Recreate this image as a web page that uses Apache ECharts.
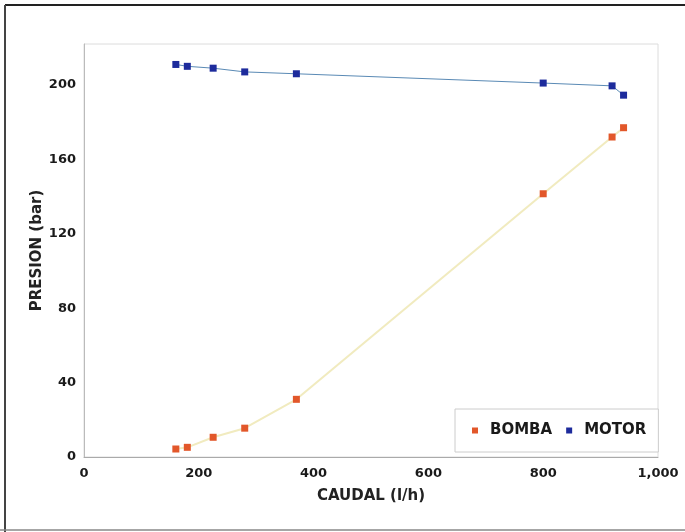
<!DOCTYPE html>
<html>
<head>
<meta charset="utf-8">
<script src="https://cdn.jsdelivr.net/npm/echarts@6/dist/echarts.min.js"></script>
<style>
html,body{margin:0;padding:0;background:#fff;}
#c{width:685px;height:532px;}
</style>
</head>
<body>
<div id="c"></div>
<script>
var caudal = [160, 180, 225, 280, 370, 800, 920, 940];
var bomba = [4.3, 5.2, 10.6, 15.5, 31, 141.5, 172, 177];
var motor = [211, 210, 209, 207, 206, 201, 199.5, 194.5];
var seriesNames = ['BOMBA', 'MOTOR'];
var xTitle = 'CAUDAL (l/h)';
var yTitle = 'PRESION (bar)';

function pairs(xs, ys){ return xs.map(function(x,i){ return [x, ys[i]]; }); }
function commas(v){ return String(v).replace(/\B(?=(\d{3})+(?!\d))/g, ','); }

var FONT = 'DejaVu Sans';
var chart = echarts.init(document.getElementById('c'));
chart.setOption({
  animation: false,
  backgroundColor: '#fff',
  grid: {left: 84, right: 27, top: 44, bottom: 75, show: true, borderColor: '#dcdcdc', borderWidth: 1, backgroundColor: '#fff'},
  xAxis: {
    type: 'value', min: 0, max: 1000, interval: 200,
    name: xTitle, nameLocation: 'middle', nameGap: 32, nameMoveOverlap: false,
    nameTextStyle: {fontFamily: FONT, fontWeight: 'bold', fontSize: 15, color: '#222'},
    axisLine: {show: true, lineStyle: {color: '#aaa', width: 1}},
    axisTick: {show: false},
    splitLine: {show: false},
    axisLabel: {margin: 10, fontFamily: FONT, fontWeight: 'bold', fontSize: 13, color: '#1a1a1a', formatter: commas}
  },
  yAxis: {
    type: 'value', min: 0, max: 222, interval: 40,
    name: yTitle, nameLocation: 'middle', nameGap: 39, nameRotate: 90, nameMoveOverlap: false,
    nameTextStyle: {fontFamily: FONT, fontWeight: 'bold', fontSize: 15, color: '#222'},
    axisLine: {show: true, lineStyle: {color: '#bbb', width: 1}},
    axisTick: {show: false},
    splitLine: {show: false},
    axisLabel: {margin: 8, fontFamily: FONT, fontWeight: 'bold', fontSize: 13, color: '#1a1a1a', showMaxLabel: false}
  },
  legend: {
    data: seriesNames, left: 455, top: 409, orient: 'horizontal',
    backgroundColor: '#fff', borderColor: '#ccc', borderWidth: 1,
    padding: [14, 12, 14, 17], itemWidth: 6, itemHeight: 6, itemGap: 14, icon: 'rect',
    textStyle: {fontFamily: FONT, fontWeight: 'bold', fontSize: 15, color: '#1a1a1a', padding: [0, 0, 0, 7]}
  },
  series: [
    {
      name: seriesNames[0], type: 'line', data: pairs(caudal, bomba),
      symbol: 'rect', symbolSize: 7, color: '#e2572a',
      itemStyle: {color: '#e2572a'},
      lineStyle: {color: '#f1ebbf', width: 2}
    },
    {
      name: seriesNames[1], type: 'line', data: pairs(caudal, motor),
      symbol: 'rect', symbolSize: 7, color: '#1d2b9c',
      itemStyle: {color: '#1d2b9c'},
      lineStyle: {color: '#5a8ab5', width: 1}
    }
  ],
  graphic: [
    {type: 'line', shape: {x1: 5, y1: 5, x2: 685, y2: 5}, style: {stroke: '#222', lineWidth: 2}},
    {type: 'line', shape: {x1: 5, y1: 5, x2: 5, y2: 532}, style: {stroke: '#444', lineWidth: 2}},
    {type: 'line', shape: {x1: 0, y1: 530, x2: 685, y2: 530}, style: {stroke: '#888', lineWidth: 1.5}}
  ]
});
</script>
</body>
</html>
